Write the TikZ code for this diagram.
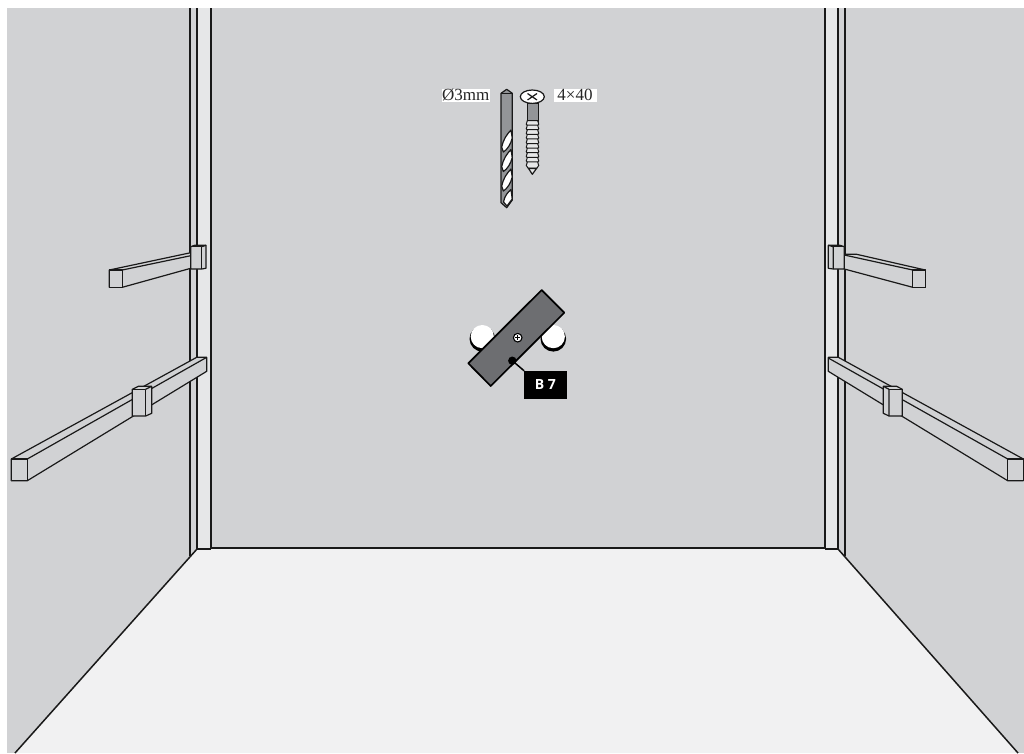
\documentclass[tikz,border=0pt]{standalone}
\usepackage{fontspec}
\setmainfont{Liberation Serif}
\newfontfamily\badgefont{Open Sans}
\definecolor{wallgrey}{HTML}{D1D2D4}
\definecolor{floorgrey}{HTML}{F1F1F2}
\definecolor{postgrey}{HTML}{E6E7E8}
\definecolor{plategrey}{HTML}{6D6E71}
\definecolor{drillgrey}{HTML}{939598}
\tikzset{
  ln/.style={draw=black!90,line width=1.5pt,line join=round},
  thin ln/.style={draw=black!90,line width=1.2pt,line join=round},
  bar/.style={thin ln,fill=wallgrey},
  label box/.style={fill=white,inner sep=0pt,font=\fontsize{17}{17}\selectfont,text=black!85},
}
\begin{document}
\begin{tikzpicture}[x=1pt,y=-1pt]
\useasboundingbox (0,0) rectangle (1024,753);
\fill[white] (0,0) rectangle (1024,753);
% walls
\fill[wallgrey] (7,8) rectangle (1024,753);
\fill[postgrey] (197,8) rectangle (211,549);
\fill[postgrey] (825,8) rectangle (838,549);
% floor
\fill[floorgrey] (197,549) -- (211,548) -- (825,548) -- (838,549) -- (845,556) -- (1018,753) -- (15,753) -- (190,556) -- cycle;
% posts and floor lines
\draw[ln] (190,8) -- (190,556);
\draw[ln] (197,8) -- (197,549) -- (211,549);
\draw[ln] (211,8) -- (211,548);
\draw[ln] (825,8) -- (825,548);
\draw[ln] (838,8) -- (838,549) -- (825,549);
\draw[ln] (845,8) -- (845,556);
\draw[ln] (211,548) -- (825,548);
\draw[ln] (197,549) -- (15,753);
\draw[ln] (838,549) -- (1018,753);
% upper left bar
\draw[bar] (109.3,270) -- (190.7,252.7) -- (190.7,268.3) -- (122.3,287.3) -- (109.3,287.3) -- cycle;
\draw[thin ln] (122.3,270) -- (190.7,255.7);
\draw[bar] (109.3,270) rectangle (122.3,287.3);
\draw[bar] (190.7,246.7) -- (194.5,245.3) -- (206,245.3) -- (206,268.3) -- (201.7,269) -- (190.7,269) -- cycle;
\draw[thin ln] (201.7,246.7) -- (206,245.3);
\draw[thin ln] (190.7,246.7) -- (201.7,246.7) -- (201.7,269);
% lower left bar
\draw[bar] (11.3,459) -- (196.7,357.3) -- (206.7,357.3) -- (206.7,371.3) -- (27.3,480.7) -- (11.3,480.7) -- cycle;
\draw[thin ln] (27.3,459) -- (206.7,357.3);
\draw[bar] (11.3,459) rectangle (27.3,480.7);
\draw[bar] (132.3,389.3) -- (138.3,386.3) -- (151.7,386.3) -- (151.7,413.3) -- (145.7,416) -- (132.3,416) -- cycle;
\draw[thin ln] (132.3,389.3) -- (145.7,389.3) -- (145.7,416);
\draw[thin ln] (145.7,389.3) -- (151.7,386.3);
% upper right bar
\draw[bar] (925.3,270) -- (856.7,254.3) -- (844.3,254.3) -- (844.3,269) -- (912.7,287.3) -- (925.3,287.3) -- cycle;
\draw[thin ln] (912.7,270) -- (844.3,255);
\draw[bar] (912.7,270) rectangle (925.3,287.3);
\draw[bar] (844.3,246.7) -- (840,245.3) -- (828.3,245.3) -- (828.3,268.3) -- (833.3,269) -- (844.3,269) -- cycle;
\draw[thin ln] (828.3,245.3) -- (833.3,246.7) -- (833.3,269);
\draw[thin ln] (833.3,246.7) -- (844.3,246.7);
% lower right bar
\draw[bar] (1023.3,459) -- (838.3,357.3) -- (828.3,357.3) -- (828.3,371.3) -- (1007.7,480.7) -- (1023.3,480.7) -- cycle;
\draw[thin ln] (1007.7,459) -- (828.3,358);
\draw[bar] (1007.7,459) rectangle (1023.3,480.7);
\draw[bar] (902.3,389.3) -- (896.7,386.3) -- (883.3,386.3) -- (883.3,413.3) -- (889,416) -- (902.3,416) -- cycle;
\draw[thin ln] (883.3,386.3) -- (889,389.3) -- (889,416);
\draw[thin ln] (889,389.3) -- (902.3,389.3);
% pads and plate
\fill[black] (482.3,338.8) circle (12.8);
\fill[white] (482.3,336.6) circle (11.6);
\fill[black] (553.3,338.8) circle (12.8);
\fill[white] (553.3,336.6) circle (11.6);
\draw[draw=black,line width=1.7pt,fill=plategrey,line join=round] (541.7,290) -- (564.3,312.7) -- (490.7,386) -- (468.3,363.3) -- cycle;
\draw[draw=black,line width=1.1pt,fill=white] (517.7,337.7) circle (4.3);
\draw[draw=black,line width=0.9pt] (515,337.7) -- (520.4,337.7) (517.7,335) -- (517.7,340.4);
% drill
\draw[thin ln,fill=drillgrey] (501,93.3) -- (506.7,89.3) -- (512.3,93.3) -- (512.3,200) -- (506.7,207.7) -- (501,202.7) -- cycle;
\draw[thin ln] (501,93.3) -- (512.3,93.3);
\foreach \d in {0,19.5,39}{
  \draw[thin ln,fill=white,shift={(0,\d)}] (501.7,147) .. controls (503,140) and (507,134) .. (511,130) -- (512.2,138) .. controls (511,144) and (507,150) .. (503.3,152) -- cycle;
}
\draw[thin ln,fill=white] (503.5,202) .. controls (504.5,196) and (508,192) .. (511,189.5) -- (512.2,199) -- (507,206) -- cycle;
% screw
\draw[thin ln,fill=drillgrey] (527.3,103) -- (538.3,103) -- (538.3,122) -- (527.3,122) -- cycle;
\draw[thin ln,fill=white] (532.3,96.7) ellipse (12 and 6.7);
\draw[thin ln] (527.5,93.5) -- (537,100) (527.5,100) -- (537,93.5);
\foreach \d in {0,4.6,...,44}{
  \draw[draw=black!90,line width=1pt,fill=postgrey] (527.4,120.5+\d) .. controls (525.6,122.5+\d) and (526,126+\d) .. (528,126.6+\d) -- (537,126.6+\d) .. controls (539,126+\d) and (539.4,122.5+\d) .. (537.6,120.5+\d) -- cycle;
}
\draw[thin ln,fill=postgrey] (528.5,168.5) -- (532.3,174.3) -- (536.5,168.5) -- cycle;
% labels
\node[label box,minimum width=48pt,minimum height=13pt] (drilllabel) at (465.8,95.3) {Ø3mm};
\node[label box,minimum width=43pt,minimum height=13pt] (screwlabel) at (575,95.3) {4×40};
% badge
\node[fill=black,draw=black,inner sep=0pt,minimum width=42pt,minimum height=27pt,text=white,font=\badgefont\bfseries\fontsize{14}{14}\selectfont] (badge) at (545.3,384.5) {B 7};
\node[circle,fill=black,inner sep=0pt,minimum size=8.4pt] (dot) at (512.3,360.7) {};
\draw[black,line width=1.5pt] (dot.center) -- (badge.north west);
\end{tikzpicture}
\end{document}
